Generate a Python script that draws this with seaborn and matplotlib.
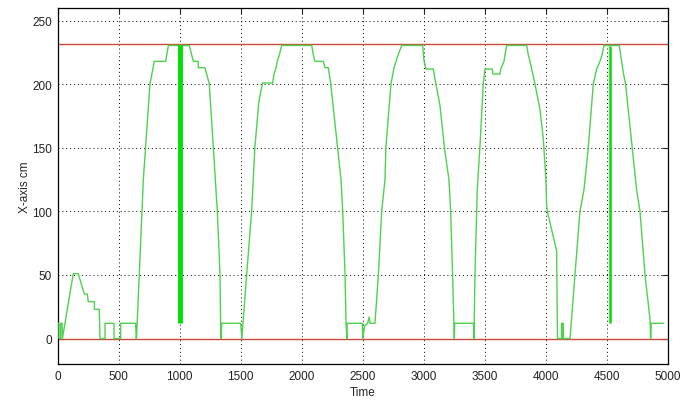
import numpy as np
import pandas as pd
import matplotlib
matplotlib.use("Agg")
import matplotlib.pyplot as plt
import seaborn as sns

# ---- trace ----
time = [0, 12, 12, 26, 26, 38, 40, 129, 170, 220, 244, 252, 302, 302, 342, 348,
        389, 389, 463, 463, 517, 517, 640, 645, 648, 703, 757, 793, 886, 908,
        1080, 1099, 1112, 1153, 1153, 1208, 1222, 1243, 1276, 1309, 1331, 1336,
        1340, 1345, 1500, 1510, 1549, 1590, 1617, 1650, 1680, 1762, 1773, 1790,
        1800, 1817, 1836, 2082, 2095, 2109, 2177, 2191, 2218, 2237, 2286, 2322,
        2336, 2355, 2363, 2370, 2372, 2497, 2500, 2515, 2540, 2553, 2560, 2600,
        2628, 2655, 2682, 2690, 2731, 2756, 2772, 2790, 2819, 2991, 3001, 3018,
        3078, 3092, 3133, 3168, 3206, 3220, 3236, 3247, 3250, 3253, 3406, 3411,
        3419, 3433, 3438, 3460, 3487, 3501, 3561, 3566, 3624, 3630, 3657, 3665,
        3679, 3843, 3856, 3870, 3911, 3952, 3979, 4000, 4006, 4012, 4088, 4095,
        4128, 4128, 4132, 4132, 4140, 4140, 4145, 4198, 4238, 4279, 4312, 4348,
        4388, 4416, 4443, 4460, 4476, 4601, 4634, 4653, 4689, 4743, 4771, 4812,
        4853, 4858, 4863, 4962]
xpos = [12, 12, 0, 0, 12, 12, 0, 51, 51, 35, 35, 29, 29, 23, 23, 0,
        0, 12, 12, 0, 0, 12, 12, 0, 2, 125, 200, 218, 218, 230.5,
        230.5, 223, 218, 218, 213, 213, 208, 200, 151, 100, 50, 12,
        0, 12, 12, 0, 50, 100, 151, 187, 201, 201, 208, 213,
        218, 223, 230.5, 230.5, 223, 218, 218, 213, 213, 201, 157, 125,
        100, 50, 12, 0, 12, 12, 0, 10, 12, 17, 12, 12,
        50, 100, 125, 151, 200, 213, 218, 223, 230.5, 230.5, 219, 212,
        212, 204, 183, 151, 125, 100, 50, 12, 0, 12, 12, 0,
        50, 100, 117, 151, 200, 212, 212, 208, 208, 212, 218, 223,
        230.5, 230.5, 223, 218, 200, 180, 157, 125, 105, 100, 69, 0,
        0, 12, 12, 0, 0, 12, 0, 0, 50, 100, 117, 151,
        200, 212, 218, 223, 230.5, 230.5, 209, 200, 167, 117, 100, 50,
        15, 0, 12, 12]

# bright vertical spikes (time, from, to)
spike_t = [1003, 4525]
spike_lo = [12, 12]
spike_hi = [231, 230]
spike_w = [3.5, 1.8]

# red limit lines
limits = [0, 232]

trace = pd.DataFrame({"Time": time, "X-axis cm": xpos})

sns.set_style("white")
plt.rcParams["font.family"] = ["Liberation Sans", "DejaVu Sans"]

fig = plt.figure(figsize=(6.83, 4.06), dpi=100)
ax = fig.add_axes([0.0842, 0.101, 0.8938, 0.877])

for lv in limits:
    ax.axhline(lv, color="#cc4a3c", lw=1.0, zorder=2)

sns.lineplot(data=trace, x="Time", y="X-axis cm", sort=False, estimator=None,
             color="#4fd14f", lw=1.0, ax=ax, zorder=3)

for t, lo, hi, w in zip(spike_t, spike_lo, spike_hi, spike_w):
    ax.vlines(t, lo, hi, color="#00e000", lw=w, zorder=4)

ax.set_xlim(0, 5000)
ax.set_ylim(-20, 260)
ax.set_xticks(np.arange(0, 5001, 500))
ax.set_yticks(np.arange(0, 251, 50))
ax.grid(True, color="black", ls=(0, (1, 3)), lw=0.7)
ax.tick_params(direction="in", top=True, right=True, length=4, width=0.8,
               labelsize=8.5, colors="#222222", pad=4)
for s in ax.spines.values():
    s.set_color("black")
    s.set_linewidth(0.9)
ax.set_xlabel("Time", fontsize=8.5, labelpad=3)
ax.set_ylabel("X-axis cm", fontsize=8.5, labelpad=1)

fig.savefig("out.png", dpi=100)
